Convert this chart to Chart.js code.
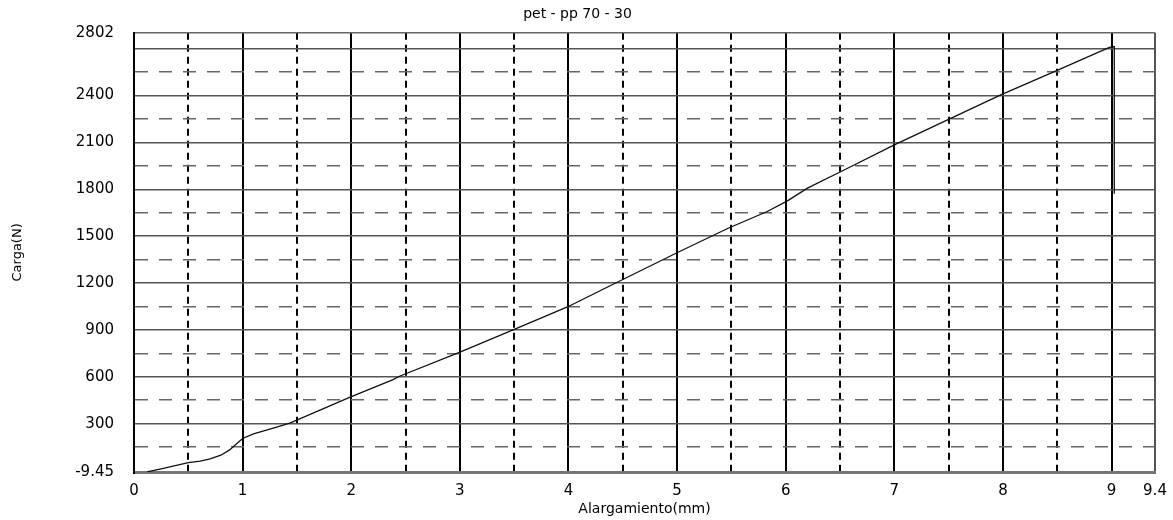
<!DOCTYPE html>
<html>
<head>
<meta charset="utf-8">
<title>pet - pp 70 - 30</title>
<script src="https://cdn.jsdelivr.net/npm/chart.js@4/dist/chart.umd.min.js"></script>
<style>
    html, body { margin: 0; padding: 0; background: #fff; }
    #wrap { width: 1173px; height: 520px; position: relative; }
</style>
</head>
<body>
<div id="wrap"><canvas id="c1"></canvas></div>
<script>
// ensayo de traccion: alargamiento (mm) vs carga (N)
const elongation = [0.12, 0.27, 0.50, 0.61, 0.70, 0.80, 0.88, 0.95, 1.00, 1.10, 1.33, 1.44, 1.99, 2.38, 2.45, 2.99, 3.49, 3.86, 3.99, 4.43, 4.99, 5.47, 5.83, 6.02, 6.20, 6.51, 7.00, 7.49, 7.98, 8.51, 8.98, 9.025, 9.025];
const load = [-9, 14, 50, 60, 74, 98, 132, 175, 205, 235, 281, 305, 470, 580, 605, 755, 900, 1009, 1047, 1199, 1391, 1551, 1658, 1728, 1808, 1914, 2085, 2245, 2405, 2565, 2708, 2714, 1771];

const xTicks = [0, 0.5, 1, 1.5, 2, 2.5, 3, 3.5, 4, 4.5, 5, 5.5, 6, 6.5, 7, 7.5, 8, 8.5, 9, 9.4];
const xTickLabels = [0, 1, 2, 3, 4, 5, 6, 7, 8, 9, 9.4];
const yTicks = [-9.45, 150, 300, 450, 600, 750, 900, 1050, 1200, 1350, 1500, 1650, 1800, 1950, 2100, 2250, 2400, 2550, 2700, 2802];
const yTickLabels = [-9.45, 300, 600, 900, 1200, 1500, 1800, 2100, 2400, 2802];

const X_MIN = 0, X_MAX = 9.4, Y_MIN = -9.45, Y_MAX = 2802;

function inList(list, v) {
    return list.some(function (t) { return Math.abs(t - v) < 1e-6; });
}

document.addEventListener("DOMContentLoaded", function () {
    const canvas = document.getElementById('c1');
    const font = "'DejaVu Sans', 'Liberation Sans', Arial, sans-serif";

    const points = elongation.map(function (x, i) { return { x: x, y: load[i] }; });

    new Chart(canvas, {
        type: 'line',
        data: {
            datasets: [{
                label: 'Carga',
                data: points,
                borderColor: '#111',
                borderWidth: 1.3,
                pointRadius: 0,
                fill: false,
                tension: 0
            }]
        },
        options: {
            responsive: true,
            maintainAspectRatio: false,
            animation: false,
            layout: { padding: { left: 0, right: 18, top: 0, bottom: 0 } },
            plugins: {
                legend: { display: false },
                tooltip: { enabled: false },
                title: {
                    display: true,
                    text: 'pet - pp 70 - 30',
                    color: '#000',
                    font: { family: font, size: 14, weight: 'normal' },
                    padding: { top: 6, bottom: 10 }
                }
            },
            scales: {
                x: {
                    type: 'linear',
                    min: X_MIN,
                    max: X_MAX,
                    afterBuildTicks: function (scale) {
                        scale.ticks = xTicks.map(function (v) { return { value: v }; });
                    },
                    afterFit: function (scale) {
                        scale.height = 48;
                        // el rotulo 9.4 puede salir del area, no reservar espacio
                        scale.paddingRight = 0;
                    },
                    ticks: {
                        autoSkip: false,
                        maxRotation: 0,
                        padding: 10,
                        color: '#000',
                        font: { family: font, size: 15 },
                        callback: function (value) {
                            return inList(xTickLabels, value) ? String(value) : '';
                        }
                    },
                    grid: {
                        drawTicks: false,
                        color: function (ctx) {
                            if (!ctx.tick) return '#000';
                            if (Math.abs(ctx.tick.value - X_MAX) < 1e-6) return '#555';
                            return '#000';
                        },
                        lineWidth: 2
                    },
                    border: {
                        color: '#777',
                        width: 3,
                        dash: function (ctx) {
                            if (!ctx.tick) return [];
                            return (Math.abs(ctx.tick.value % 1 - 0.5) < 1e-6) ? [7, 5] : [];
                        }
                    },
                    title: {
                        display: true,
                        text: 'Alargamiento(mm)',
                        color: '#000',
                        font: { family: font, size: 14 },
                        padding: { top: 0, bottom: 2 }
                    }
                },
                y: {
                    type: 'linear',
                    min: Y_MIN,
                    max: Y_MAX,
                    afterBuildTicks: function (scale) {
                        scale.ticks = yTicks.map(function (v) { return { value: v }; });
                    },
                    afterFit: function (scale) { scale.width = 134; },
                    ticks: {
                        autoSkip: false,
                        padding: 20,
                        color: '#000',
                        font: { family: font, size: 15 },
                        callback: function (value) {
                            return inList(yTickLabels, value) ? String(value) : '';
                        }
                    },
                    grid: {
                        drawTicks: false,
                        color: function (ctx) {
                            if (!ctx.tick) return '#666';
                            const v = ctx.tick.value;
                            if (Math.abs(v - Y_MIN) < 1e-6) return '#777';
                            if (Math.abs(v % 300) < 1e-6) return '#555';
                            return '#666';
                        },
                        lineWidth: function (ctx) {
                            if (!ctx.tick) return 1.5;
                            return Math.abs(ctx.tick.value - Y_MIN) < 1e-6 ? 3 : 1.5;
                        }
                    },
                    border: {
                        color: '#000',
                        width: 2,
                        dash: function (ctx) {
                            if (!ctx.tick) return [];
                            return (Math.abs(ctx.tick.value % 300 - 150) < 1e-6) ? [13, 11] : [];
                        }
                    },
                    title: {
                        display: true,
                        text: 'Carga(N)',
                        color: '#000',
                        font: { family: font, size: 13 },
                        padding: { top: 10, bottom: 0 }
                    }
                }
            }
        }
    });
});
</script>
</body>
</html>
